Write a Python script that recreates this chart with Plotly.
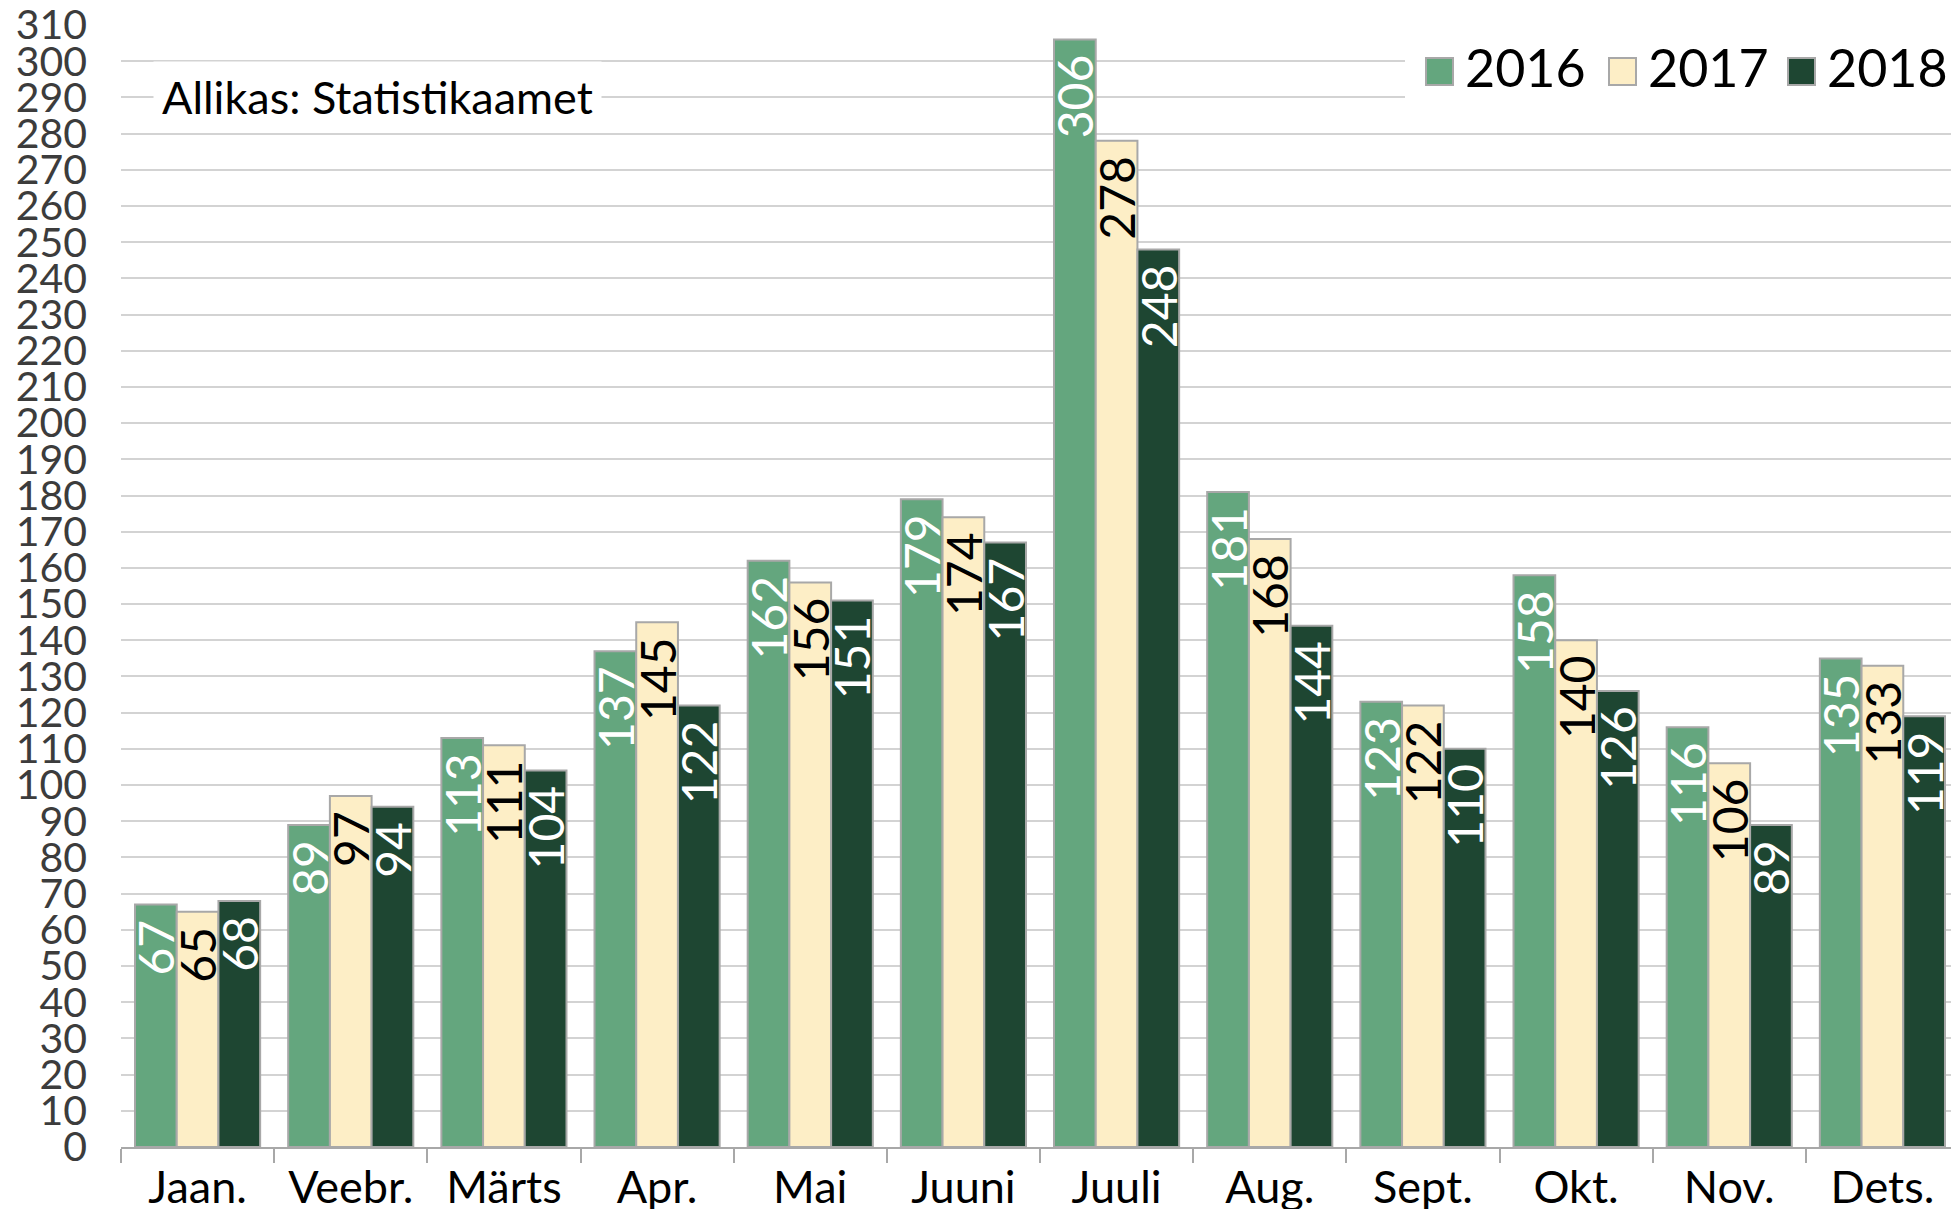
import plotly.graph_objects as go

# ---- data ----
months = ["Jaan.", "Veebr.", "Märts", "Apr.", "Mai", "Juuni",
          "Juuli", "Aug.", "Sept.", "Okt.", "Nov.", "Dets."]
years = ["2016", "2017", "2018"]
v2016 = [67, 89, 113, 137, 162, 179, 306, 181, 123, 158, 116, 135]
v2017 = [65, 97, 111, 145, 156, 174, 278, 168, 122, 140, 106, 133]
v2018 = [68, 94, 104, 122, 151, 167, 248, 144, 110, 126, 89, 119]
series = [v2016, v2017, v2018]
source_note = "Allikas: Statistikaamet"
y_ticks = list(range(0, 311, 10))

# ---- styles ----
OFF = 8  # page body margin of the browser
W, H = 1959 - OFF, 1209 - OFF
ML, MR, MT, MB = 121 - OFF, 0, 25 - OFF, 62
PW, PH = W - ML - MR, H - MT - MB
FONT = "Lato"
colors = ["#64a67e", "#fdeec6", "#1e4632"]
label_colors = ["#ffffff", "#000000", "#ffffff"]
outline = "#a8a8a8"


def px(x):
    # x in page pixels -> paper fraction
    return (x - OFF - ML) / PW


def py(y):
    # y in page pixels -> paper fraction
    return (H - MB - (y - OFF)) / PH


fig = go.Figure()
for name, vals, col, lcol in zip(years, series, colors, label_colors):
    fig.add_trace(go.Bar(
        x=months, y=vals, name=name,
        marker=dict(color=col, line=dict(color=outline, width=2)),
        text=[f"{v}\u00a0" for v in vals],
        textposition="inside", insidetextanchor="end", textangle=-90,
        textfont=dict(family=FONT, size=48, color=lcol),
        constraintext="none", cliponaxis=False,
        showlegend=False,
    ))

shapes = []
annotations = []

# legend background
shapes.append(dict(type="rect", xref="paper", yref="paper",
                   x0=px(1405), x1=px(1954), y0=py(108), y1=py(40),
                   fillcolor="white", line=dict(width=0), layer="above"))
sw_x = [1426, 1609, 1788]
for i, (name, col) in enumerate(zip(years, colors)):
    shapes.append(dict(type="rect", xref="paper", yref="paper",
                       x0=px(sw_x[i]), x1=px(sw_x[i] + 27), y0=py(85), y1=py(58),
                       fillcolor=col, line=dict(color=outline, width=2), layer="above"))
    annotations.append(dict(xref="paper", yref="paper", x=px(sw_x[i] + 37), y=py(67),
                            xanchor="left", yanchor="middle", text=name, showarrow=False,
                            font=dict(family=FONT, size=52, color="#000000")))

annotations.append(dict(xref="paper", yref="y", x=px(153), y=290,
                        xanchor="left", yanchor="middle", text=source_note,
                        showarrow=False, bgcolor="white", borderpad=8,
                        font=dict(family=FONT, size=45, color="#000000")))

fig.update_layout(
    width=W, height=H,
    margin=dict(l=ML, r=MR, t=MT, b=MB, autoexpand=False),
    paper_bgcolor="white", plot_bgcolor="white",
    barmode="group", bargap=0.183, bargroupgap=0,
    shapes=shapes, annotations=annotations,
    showlegend=False,
)
fig.update_yaxes(
    range=[0, 310], tickvals=y_ticks, ticktext=[str(t) for t in y_ticks],
    showgrid=True, gridcolor="#d3d3d3", gridwidth=1.5,
    zeroline=False, showline=False, ticks="",
    tickfont=dict(family=FONT, size=41, color="#3c3c3c"),
    ticklabelstandoff=33, ticklabeloverflow="allow", automargin=False,
)
fig.update_xaxes(
    type="category", showgrid=False, showline=True, linecolor=outline, linewidth=1.5,
    ticks="outside", tickson="boundaries", ticklen=14, tickcolor=outline, tickwidth=1.5,
    tickfont=dict(family=FONT, size=45, color="#000000"),
    ticklabeloverflow="allow", automargin=False,
)

fig.write_html("out.html")
